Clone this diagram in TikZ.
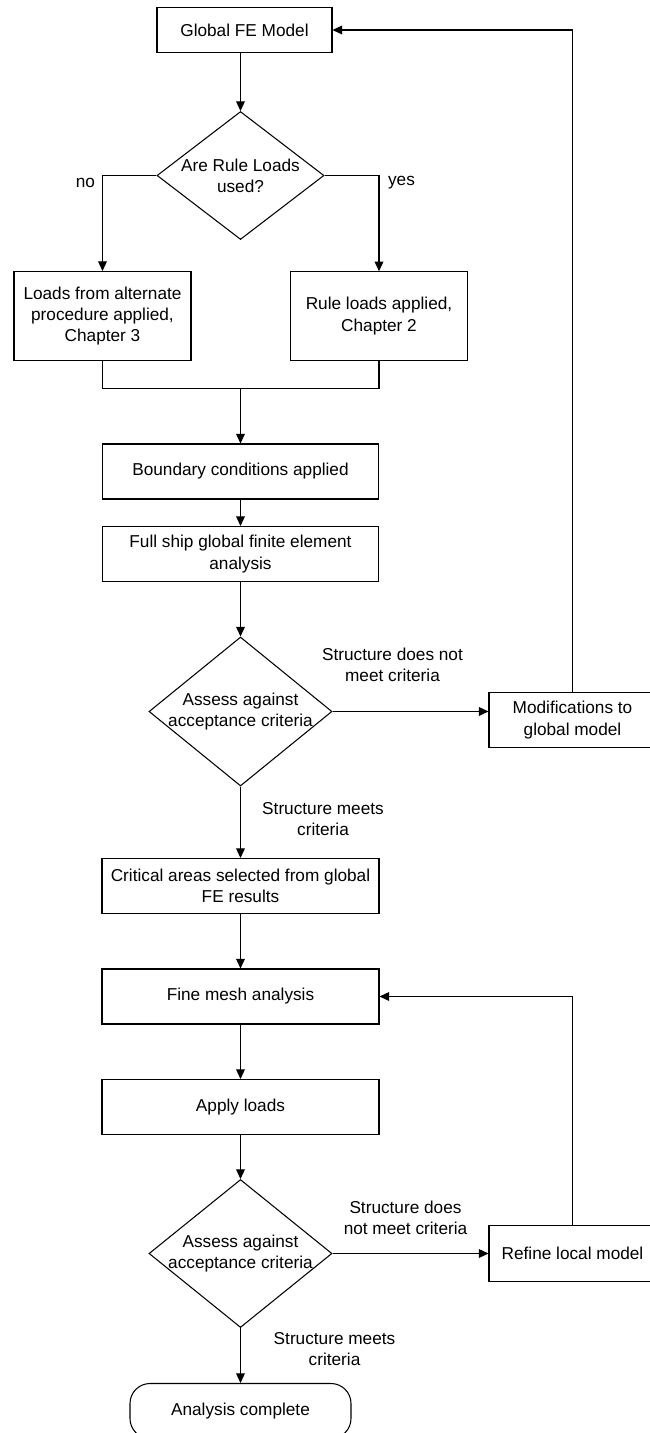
\documentclass[tikz,border=0pt]{standalone}
\usepackage{fontspec}
\setmainfont{Liberation Sans}
\usetikzlibrary{shapes.geometric,arrows.meta}

\begin{document}
\begin{tikzpicture}[
  font=\fontsize{9.8}{12}\selectfont,
  line width=0.6pt,
  box/.style={draw,rectangle,align=center,inner sep=0pt,minimum height=1.1cm},
  decision/.style={draw,diamond,inner sep=0pt},
  lbl/.style={align=center,inner sep=0pt},
  flow/.style={-{Triangle[length=5.5pt,width=5pt]}}
]
\useasboundingbox (0,0) rectangle (12.98,-28.66);
% global model and load choice
\node[box,minimum width=3.5cm,minimum height=0.9cm] (glob) at (4.89,-0.6) {Global FE Model};
\node[decision,minimum width=3.34cm,minimum height=2.56cm,label={[lbl]center:{Are Rule Loads\\used?}}] (dec1) at (4.81,-3.51) {};
\node[box,minimum width=3.54cm,minimum height=1.78cm] (loadsalt) at (2.05,-6.32) {Loads from alternate\\procedure applied,\\Chapter 3};
\node[box,minimum width=3.53cm,minimum height=1.77cm] (ruleld) at (7.58,-6.32) {Rule loads applied,\\Chapter 2};
\coordinate (join) at (4.81,-7.77);
\node[box,minimum width=5.53cm] (bound) at (4.81,-9.43) {Boundary conditions applied};
\node[box,minimum width=5.53cm] (fullship) at (4.81,-11.08) {Full ship global finite element\\analysis};
% first check
\node[decision,minimum width=3.66cm,minimum height=2.98cm,label={[lbl]center:{Assess against\\acceptance criteria}}] (dec2) at (4.81,-14.23) {};
\node[box,minimum width=3.34cm] (modif) at (11.45,-14.40) {Modifications to\\global model};
\node[box,minimum width=5.54cm] (crit) at (4.81,-17.72) {Critical areas selected from global\\FE results};
% local analysis
\node[box,minimum width=5.54cm] (fine) at (4.81,-19.93) {Fine mesh analysis};
\node[box,minimum width=5.54cm] (apply) at (4.81,-22.14) {Apply loads};
\node[decision,minimum width=3.66cm,minimum height=2.96cm,label={[lbl]center:{Assess against\\acceptance criteria}}] (dec3) at (4.81,-25.07) {};
\node[box,minimum width=3.34cm,minimum height=1.11cm] (refine) at (11.45,-25.07) {Refine local model};
\node[box,rounded corners=0.4cm,minimum width=4.42cm] (complete) at (4.81,-28.22) {Analysis complete};
% labels
\node[lbl] (lno) at (1.71,-3.65) {no};
\node[lbl] (lyes) at (8.03,-3.65) {yes};
\node[lbl] (lnot1) at (7.85,-13.29) {Structure does not\\meet criteria};
\node[lbl] (lmeet1) at (6.46,-16.38) {Structure meets\\criteria};
\node[lbl] (lnot2) at (8.11,-24.36) {Structure does\\not meet criteria};
\node[lbl] (lmeet2) at (6.69,-26.99) {Structure meets\\criteria};
% connectors
\draw[flow] (glob.south -| dec1.north) -- (dec1.north);
\draw[flow] (dec1.west) -| (loadsalt.north);
\draw[flow] (dec1.east) -| (ruleld.north);
\draw (loadsalt.south) |- (join) -| (ruleld.south);
\draw[flow] (join) -- (bound.north);
\draw[flow] (bound) -- (fullship);
\draw[flow] (fullship) -- (dec2);
\draw[flow] (dec2.east) -- (dec2.east -| modif.west);
\draw[flow] (modif.north) |- (glob.east);
\draw[flow] (dec2) -- (crit);
\draw[flow] (crit) -- (fine);
\draw[flow] (fine) -- (apply);
\draw[flow] (apply) -- (dec3);
\draw[flow] (dec3) -- (refine);
\draw[flow] (refine.north) |- (fine.east);
\draw[flow] (dec3) -- (complete);
\end{tikzpicture}
\end{document}
